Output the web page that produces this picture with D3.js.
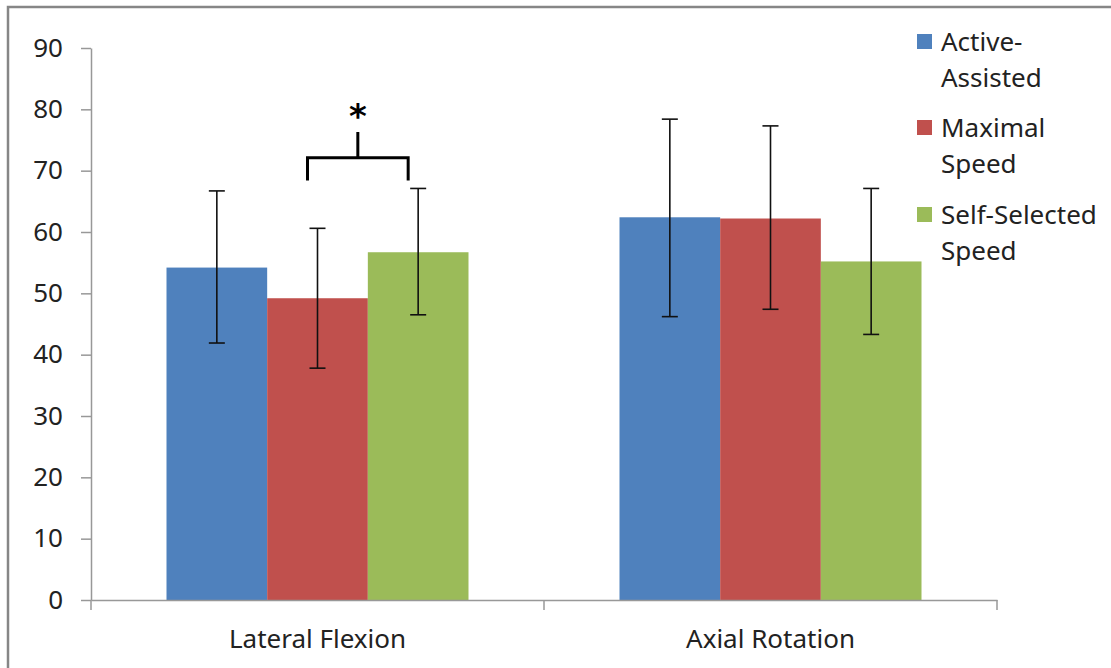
<!DOCTYPE html>
<html>
<head>
<meta charset="utf-8">
<script src="https://cdn.jsdelivr.net/npm/d3@7.9.0/dist/d3.min.js"></script>
<style>
  body { margin: 0; background: #fff; }
  svg { display: block; font-family: "Noto Sans", sans-serif; }
</style>
</head>
<body>
<svg id="chart" width="1111" height="668"></svg>
<script>
// data
const categories = ['Lateral Flexion', 'Axial Rotation'];
const seriesNames = ['Active-Assisted', 'Maximal Speed', 'Self-Selected Speed'];
const legendLines = [['Active-', 'Assisted'], ['Maximal', 'Speed'], ['Self-Selected', 'Speed']];
const colors = ['#4F81BD', '#C0504D', '#9BBB59'];
// means per series, one value per category
const means = [
  [54.2, 62.4],
  [49.2, 62.2],
  [56.7, 55.2]
];
const errUpper = [
  [66.7, 78.4],
  [60.6, 77.3],
  [67.1, 67.1]
];
const errLower = [
  [41.9, 46.2],
  [37.8, 47.4],
  [46.5, 43.3]
];
const yTicks = [0, 10, 20, 30, 40, 50, 60, 70, 80, 90];

const svg = d3.select('#chart');

// outer frame (only top/left edges fall inside the picture)
svg.append('rect')
  .attr('x', 8).attr('y', 7)
  .attr('width', 1300).attr('height', 900)
  .attr('fill', 'none')
  .attr('stroke', '#868686')
  .attr('stroke-width', 2.5);

const x0 = d3.scaleBand().domain(categories).range([91, 997]).padding(0);
const x1 = d3.scaleBand().domain(seriesNames).range([0, x0.bandwidth()])
  .paddingInner(0).paddingOuter(0.75);
const y = d3.scaleLinear().domain([0, 90]).range([600, 48]);

// y axis
const yAxis = svg.append('g')
  .attr('transform', 'translate(91,0)')
  .call(d3.axisLeft(y).tickValues(yTicks).tickSize(10).tickSizeOuter(0).tickPadding(18));
yAxis.select('.domain').attr('stroke', '#989898').attr('stroke-width', 1.5);
yAxis.selectAll('.tick line').attr('stroke', '#989898').attr('stroke-width', 1.5);
yAxis.selectAll('.tick text')
  .attr('font-size', 26).attr('fill', '#222')
  .attr('font-family', '"Noto Sans", sans-serif');

// bars
const rows = [];
seriesNames.forEach((s, si) => {
  categories.forEach((c, ci) => {
    rows.push({ s, si, c, v: means[si][ci], hi: errUpper[si][ci], lo: errLower[si][ci] });
  });
});

svg.append('g').selectAll('rect')
  .data(rows)
  .join('rect')
  .attr('x', d => x0(d.c) + x1(d.s))
  .attr('y', d => y(d.v))
  .attr('width', x1.bandwidth())
  .attr('height', d => y(0) - y(d.v))
  .attr('fill', d => colors[d.si]);

// x axis
const xAxis = svg.append('g')
  .attr('transform', 'translate(0,600)')
  .call(d3.axisBottom(x0).tickSize(0).tickSizeOuter(0).tickPadding(30));
xAxis.select('.domain').attr('stroke', '#989898').attr('stroke-width', 1.5);
xAxis.selectAll('.tick text')
  .attr('font-size', 26).attr('fill', '#222')
  .attr('font-family', '"Noto Sans", sans-serif');
const bounds = [x0(categories[0])].concat(categories.map(c => x0(c) + x0.bandwidth()));
xAxis.selectAll('line.bound')
  .data(bounds)
  .join('line')
  .attr('class', 'bound')
  .attr('x1', d => d).attr('x2', d => d)
  .attr('y1', 0).attr('y2', 10)
  .attr('stroke', '#989898').attr('stroke-width', 1.5);

// error bars
const cap = 8;
const eb = svg.append('g').attr('stroke', '#111').attr('stroke-width', 1.6);
rows.forEach(d => {
  const cx = x0(d.c) + x1(d.s) + x1.bandwidth() / 2;
  eb.append('line').attr('x1', cx).attr('x2', cx).attr('y1', y(d.hi)).attr('y2', y(d.lo));
  eb.append('line').attr('x1', cx - cap).attr('x2', cx + cap).attr('y1', y(d.hi)).attr('y2', y(d.hi));
  eb.append('line').attr('x1', cx - cap).attr('x2', cx + cap).attr('y1', y(d.lo)).attr('y2', y(d.lo));
});

// significance bracket between Maximal and Self-Selected in Lateral Flexion
const bL = x0(categories[0]) + x1(seriesNames[1]) + x1.bandwidth() / 2 - 10;
const bR = x0(categories[0]) + x1(seriesNames[2]) + x1.bandwidth() / 2 - 10;
const bMid = (bL + bR) / 2;
svg.append('path')
  .attr('d', `M${bL},${y(68.4)}V${y(72.1)}H${bR}V${y(68.4)}M${bMid},${y(72.1)}V${y(76.3)}`)
  .attr('fill', 'none')
  .attr('stroke', '#000')
  .attr('stroke-width', 3);
svg.append('text')
  .attr('x', bMid)
  .attr('y', y(76.3) - 4)
  .attr('text-anchor', 'middle')
  .attr('font-size', 34)
  .attr('font-weight', 'bold')
  .attr('font-family', '"DejaVu Sans", sans-serif')
  .text('*');

// legend
const legend = svg.append('g');
const legendY = [42, 128, 215];
legendLines.forEach((lines, i) => {
  legend.append('rect')
    .attr('x', 917).attr('y', legendY[i] - 8)
    .attr('width', 15).attr('height', 15)
    .attr('fill', colors[i]);
  lines.forEach((t, j) => {
    legend.append('text')
      .attr('x', 941)
      .attr('y', legendY[i] + 9 + j * 36)
      .attr('font-size', 26)
      .attr('fill', '#222')
      .text(t);
  });
});
</script>
</body>
</html>
